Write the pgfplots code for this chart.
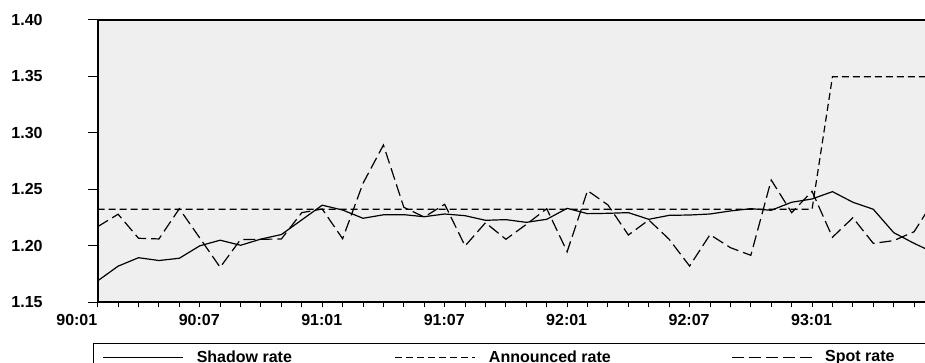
\documentclass[border=0pt]{standalone}
\usepackage{fontspec}
\setmainfont{Liberation Sans}
\usepackage{pgfplots}
\usepackage{pgfplotstable}
\pgfplotsset{compat=1.18}
\definecolor{plotbg}{RGB}{239,239,239}

\pgfplotstableread{
x shadow
0 1.169
1 1.182
2 1.1895
3 1.187
4 1.189
5 1.200
6 1.205
7 1.2005
8 1.206
9 1.210
10 1.223
11 1.236
12 1.2317
13 1.2244
14 1.2275
15 1.2276
16 1.2258
17 1.2282
18 1.2267
19 1.2226
20 1.2232
21 1.2208
22 1.2235
23 1.2332
24 1.2285
25 1.2288
26 1.2294
27 1.2235
28 1.2270
29 1.2273
30 1.2282
31 1.2309
32 1.2329
33 1.2315
34 1.2386
35 1.2415
36 1.2480
37 1.2386
38 1.2324
39 1.2117
40 1.2022
41 1.1937
}\shadowtab

\pgfplotstableread{
x announced
0 1.2324
35 1.2324
36 1.3498
41 1.3498
}\announcedtab

\pgfplotstableread{
x spot
0 1.217
1 1.228
2 1.2067
3 1.2061
4 1.2329
5 1.207
6 1.181
7 1.2056
8 1.2058
9 1.2061
10 1.2294
11 1.2326
12 1.2063
13 1.2554
14 1.2893
15 1.2341
16 1.2255
17 1.2368
18 1.1999
19 1.2205
20 1.2058
21 1.2190
22 1.2329
23 1.1948
24 1.2489
25 1.2362
26 1.2096
27 1.2229
28 1.2058
29 1.1821
30 1.2099
31 1.1984
32 1.1916
33 1.2583
34 1.2294
35 1.2483
36 1.2076
37 1.2249
38 1.2022
39 1.2046
40 1.2125
41 1.241
}\spottab

\begin{document}
\begin{tikzpicture}
\useasboundingbox (0,0) rectangle (462.5pt,181.5pt);
\clip (0,0) rectangle (462.5pt,181.5pt);
\begin{axis}[
  at={(48.85pt,30.35pt)}, anchor=south west,
  x=10.205pt, y=564.6pt,
  xmin=0, xmax=41, ymin=1.15, ymax=1.40,
  axis background/.style={fill=plotbg},
  axis line style={line width=0.9pt, black},
  tick align=outside,
  xtick pos=left, ytick pos=left,
  major tick length=5pt, minor tick length=2.5pt,
  tick style={line width=0.5pt, black},
  xtick={0,6,12,18,24,30,36},
  xticklabels={90:01,90:07,91:01,91:07,92:01,92:07,93:01},
  minor xtick={0,1,...,41},
  major x tick style={draw=none},
  ytick={1.15,1.20,1.25,1.30,1.35,1.40},
  y tick label style={/pgf/number format/fixed, /pgf/number format/fixed zerofill, /pgf/number format/precision=2},
  yticklabel style={anchor=east, inner sep=0pt, xshift=-22.35pt},
  xticklabel style={anchor=north east, inner sep=0pt, yshift=-0.85pt},
  tick label style={font=\fontsize{8}{9.6}\selectfont\bfseries},
  /pgf/number format/assume math mode=true,
  legend columns=3,
  legend style={at={(rel axis cs:0,0)}, anchor=north west, xshift=-2.35pt, yshift=-20.35pt,
    draw=black, line width=0.6pt, fill=white, inner xsep=4.5pt, inner ysep=3.5pt,
    font=\fontsize{8}{9.6}\selectfont\bfseries, nodes={inner sep=0pt},
    /tikz/every odd column/.append style={column sep=6.5pt},
    /tikz/every even column/.append style={column sep=0pt}},
  legend image code/.code={\draw[#1] (0pt,0pt) -- (40pt,0pt);},
]
\addplot[black, line width=0.6pt] table[x=x, y=shadow] {\shadowtab};
\addlegendentry{\makebox[99pt][l]{Shadow rate}}
\addplot[black, line width=0.6pt, dash pattern=on 3.5pt off 2pt] table[x=x, y=announced] {\announcedtab};
\addlegendentry{\makebox[121pt][l]{Announced rate}}
\addplot[black, line width=0.6pt, dash pattern=on 6pt off 2.5pt] table[x=x, y=spot] {\spottab};
\addlegendentry{\makebox[70pt][l]{Spot rate}}
\end{axis}
\end{tikzpicture}
\end{document}
